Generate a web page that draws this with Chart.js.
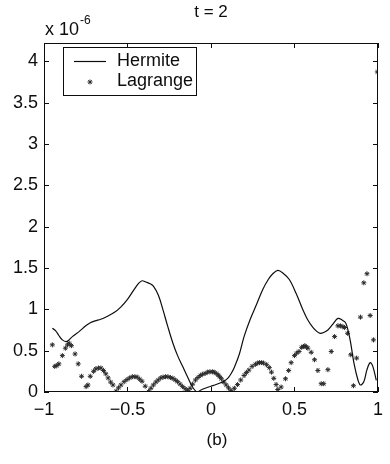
<!DOCTYPE html>
<html>
<head>
<meta charset="utf-8">
<script src="https://cdn.jsdelivr.net/npm/chart.js@4/dist/chart.umd.min.js"></script>
<style>
  html, body { margin: 0; padding: 0; background: #fff; }
  #wrap { width: 390px; height: 464px; }
</style>
</head>
<body>
<div id="wrap"><canvas id="c" width="390" height="464"></canvas></div>
<script>
// Labels
const titleText = 't = 2';
const panelLabel = '(b)';
const seriesNames = ['Hermite', 'Lagrange'];
const yExponent = '-6';

// Axis ticks (values in units of 10^-6 on y)
const xTicks = [-1, -0.5, 0, 0.5, 1];
const yTicks = [0, 0.5, 1, 1.5, 2, 2.5, 3, 3.5, 4];
const yMax = 4.22;

// Hermite error curve
const hermX = [-0.95, -0.93, -0.91, -0.89, -0.868, -0.85, -0.83, -0.79, -0.75, -0.72, -0.694, -0.66, -0.626,
  -0.58, -0.539, -0.5, -0.46, -0.435, -0.413, -0.39, -0.365, -0.345, -0.315, -0.287, -0.26, -0.228, -0.2,
  -0.17, -0.14, -0.112, -0.083, -0.06, -0.035, 0.0, 0.023, 0.05, 0.072, 0.1, 0.12, 0.14, 0.17, 0.198, 0.235,
  0.275, 0.31, 0.343, 0.37, 0.4, 0.43, 0.469, 0.51, 0.547, 0.58, 0.61, 0.635, 0.653, 0.675, 0.7, 0.73,
  0.76, 0.785, 0.808, 0.833, 0.856, 0.88, 0.895, 0.915, 0.934, 0.953, 0.969, 0.99];
const hermY = [0.77, 0.74, 0.68, 0.63, 0.61, 0.63, 0.67, 0.73, 0.80, 0.84, 0.86, 0.88, 0.91,
  0.96, 1.03, 1.12, 1.24, 1.31, 1.345, 1.33, 1.31, 1.28, 1.17, 0.99, 0.80, 0.59, 0.44,
  0.31, 0.18, 0.065, 0.0, 0.025, 0.045, 0.07, 0.085, 0.105, 0.125, 0.165, 0.22, 0.30, 0.46, 0.67, 0.88,
  1.07, 1.24, 1.36, 1.43, 1.47, 1.44, 1.36, 1.19, 1.01, 0.87, 0.78, 0.73, 0.71, 0.72, 0.75, 0.82,
  0.89, 0.87, 0.83, 0.63, 0.35, 0.145, 0.085, 0.125, 0.27, 0.355, 0.31, 0.14];

// Lagrange error samples
const lagX = [-0.95, -0.936, -0.923, -0.911, -0.89, -0.872, -0.859, -0.849, -0.836, -0.814, -0.795, -0.775,
  -0.748, -0.737, -0.723, -0.703, -0.69, -0.674, -0.659, -0.644, -0.63, -0.616, -0.601, -0.587, -0.568,
  -0.554, -0.539, -0.52, -0.503, -0.487, -0.471, -0.456, -0.442, -0.427, -0.413, -0.394, -0.374,
  -0.36, -0.345, -0.33, -0.316, -0.301, -0.287, -0.272, -0.258, -0.243, -0.228, -0.214, -0.2, -0.185,
  -0.17, -0.155, -0.14, -0.125, -0.11, -0.093, -0.078, -0.064, -0.05, -0.035, -0.02, -0.006, 0.008,
  0.019, 0.031, 0.043, 0.052, 0.062, 0.077, 0.091, 0.105, 0.12, 0.14, 0.159, 0.178, 0.198, 0.212,
  0.227, 0.246, 0.266, 0.28, 0.291, 0.303, 0.314, 0.333, 0.349, 0.362, 0.376, 0.39, 0.40, 0.42, 0.446,
  0.465, 0.48, 0.50, 0.513, 0.527, 0.543, 0.553, 0.562, 0.571, 0.58, 0.60, 0.62, 0.64, 0.66, 0.675,
  0.70, 0.72, 0.74, 0.76, 0.775, 0.79, 0.80, 0.818, 0.837, 0.853, 0.872, 0.895, 0.915, 0.934, 0.953,
  0.973, 0.996];
const lagY = [0.57, 0.31, 0.32, 0.34, 0.44, 0.53, 0.57, 0.59, 0.56, 0.46, 0.34, 0.19,
  0.065, 0.085, 0.19, 0.25, 0.28, 0.29, 0.29, 0.26, 0.22, 0.17, 0.12, 0.085, 0.01,
  0.05, 0.085, 0.125, 0.15, 0.17, 0.185, 0.185, 0.18, 0.155, 0.13, 0.07, 0.005,
  0.045, 0.085, 0.12, 0.145, 0.17, 0.18, 0.185, 0.185, 0.175, 0.165, 0.145, 0.125, 0.095,
  0.065, 0.04, 0.02, 0.045, 0.095, 0.145, 0.175, 0.2, 0.215, 0.225, 0.24, 0.245, 0.245,
  0.24, 0.225, 0.205, 0.185, 0.16, 0.12, 0.085, 0.05, 0.02, 0.045, 0.09, 0.145, 0.2, 0.235,
  0.265, 0.31, 0.335, 0.35, 0.355, 0.355, 0.35, 0.33, 0.295, 0.24, 0.165, 0.09, 0.03, 0.06, 0.16,
  0.26, 0.355, 0.44, 0.47, 0.49, 0.54, 0.55, 0.56, 0.545, 0.53, 0.48, 0.39, 0.26, 0.1, 0.1,
  0.27, 0.49, 0.67, 0.80, 0.80, 0.79, 0.78, 0.71, 0.45, 0.076, 0.41, 0.905, 1.32, 1.43, 0.925,
  0.63, 3.87];

const FONT = "'Liberation Sans', Arial, Helvetica, sans-serif";
const INK = '#0d0d0d';

const toPoints = (xs, ys) => xs.map((x, i) => ({ x: x, y: ys[i] }));

const fmt = v => (v < 0 ? '\u2212' + String(Math.abs(v)) : String(v));

// Frame, inward tick marks, legend box and annotation text
const decorations = {
  id: 'decorations',
  afterDraw(chart) {
    const { ctx, chartArea: a, scales } = chart;
    const xs = scales.x, ys = scales.y;
    ctx.save();
    ctx.strokeStyle = INK;
    ctx.lineWidth = 1;
    ctx.strokeRect(Math.round(a.left) + 0.5, Math.round(a.top) + 0.5,
      Math.round(a.right - a.left) - 1, Math.round(a.bottom - a.top) - 1);

    const tl = 5;
    ctx.beginPath();
    xTicks.forEach(v => {
      const px = Math.round(xs.getPixelForValue(v)) + 0.5;
      ctx.moveTo(px, a.bottom); ctx.lineTo(px, a.bottom - tl);
      ctx.moveTo(px, a.top); ctx.lineTo(px, a.top + tl);
    });
    yTicks.forEach(v => {
      const py = Math.round(ys.getPixelForValue(v)) + 0.5;
      ctx.moveTo(a.left, py); ctx.lineTo(a.left + tl, py);
      ctx.moveTo(a.right, py); ctx.lineTo(a.right - tl, py);
    });
    ctx.stroke();

    // legend
    const lx = 63, ly = 47, lw = 133, lh = 48;
    ctx.fillStyle = '#fff';
    ctx.fillRect(lx, ly, lw, lh);
    ctx.strokeRect(lx + 0.5, ly + 0.5, lw, lh);
    ctx.beginPath();
    ctx.lineWidth = 1.2;
    ctx.moveTo(74, 61.5); ctx.lineTo(106, 61.5);
    ctx.stroke();
    ctx.lineWidth = 1;
    ctx.fillStyle = '#2a2a2a';
    ctx.strokeStyle = '#2a2a2a';
    Chart.helpers.drawPoint(ctx, { pointStyle: 'star', radius: 2.5, borderWidth: 1 }, 90, 82);
    ctx.fillStyle = INK;
    ctx.font = '18px ' + FONT;
    ctx.textBaseline = 'middle';
    ctx.textAlign = 'left';
    ctx.fillText(chart.data.datasets[0].label, 117, 61);
    ctx.fillText(chart.data.datasets[1].label, 117, 81);

    // title, exponent and panel label
    ctx.font = '17px ' + FONT;
    ctx.textAlign = 'center';
    ctx.fillText(titleText, (a.left + a.right) / 2, 12);
    ctx.fillText(panelLabel, 217, 440);
    ctx.textAlign = 'left';
    ctx.textBaseline = 'alphabetic';
    ctx.font = '18px ' + FONT;
    ctx.fillText('x 10', 45, 35);
    const w = ctx.measureText('x 10').width;
    ctx.font = '12px ' + FONT;
    ctx.fillText(yExponent, 45 + w + 1, 24);
    ctx.restore();
  }
};

Chart.defaults.font.family = FONT;
Chart.defaults.font.size = 18;
Chart.defaults.color = INK;

new Chart(document.getElementById('c'), {
  type: 'scatter',
  data: {
    datasets: [
      {
        label: seriesNames[0],
        data: toPoints(hermX, hermY),
        showLine: true,
        borderColor: INK,
        borderWidth: 1.2,
        pointRadius: 0,
        tension: 0.35,
        fill: false
      },
      {
        label: seriesNames[1],
        data: toPoints(lagX, lagY),
        showLine: false,
        pointStyle: 'star',
        pointRadius: 2.5,
        borderWidth: 1,
        borderColor: '#2a2a2a',
        backgroundColor: '#2a2a2a'
      }
    ]
  },
  options: {
    responsive: false,
    animation: false,
    devicePixelRatio: 1,
    layout: { padding: { left: 0, right: 2, top: 43, bottom: 0 } },
    plugins: { legend: { display: false }, tooltip: { enabled: false }, title: { display: false } },
    scales: {
      x: {
        type: 'linear',
        min: -1, max: 1,
        grid: { display: false, drawTicks: false },
        border: { display: false },
        afterBuildTicks: s => { s.ticks = xTicks.map(v => ({ value: v })); },
        afterFit: s => { s.height = 72; },
        ticks: { padding: 7, maxRotation: 0, autoSkip: false, callback: v => fmt(v), color: INK }
      },
      y: {
        type: 'linear',
        min: 0, max: yMax,
        grid: { display: false, drawTicks: false },
        border: { display: false },
        afterBuildTicks: s => { s.ticks = yTicks.map(v => ({ value: v })); },
        afterFit: s => { s.width = 44; },
        ticks: { padding: 6, autoSkip: false, callback: v => fmt(v), color: INK }
      }
    }
  },
  plugins: [decorations]
});
</script>
</body>
</html>
